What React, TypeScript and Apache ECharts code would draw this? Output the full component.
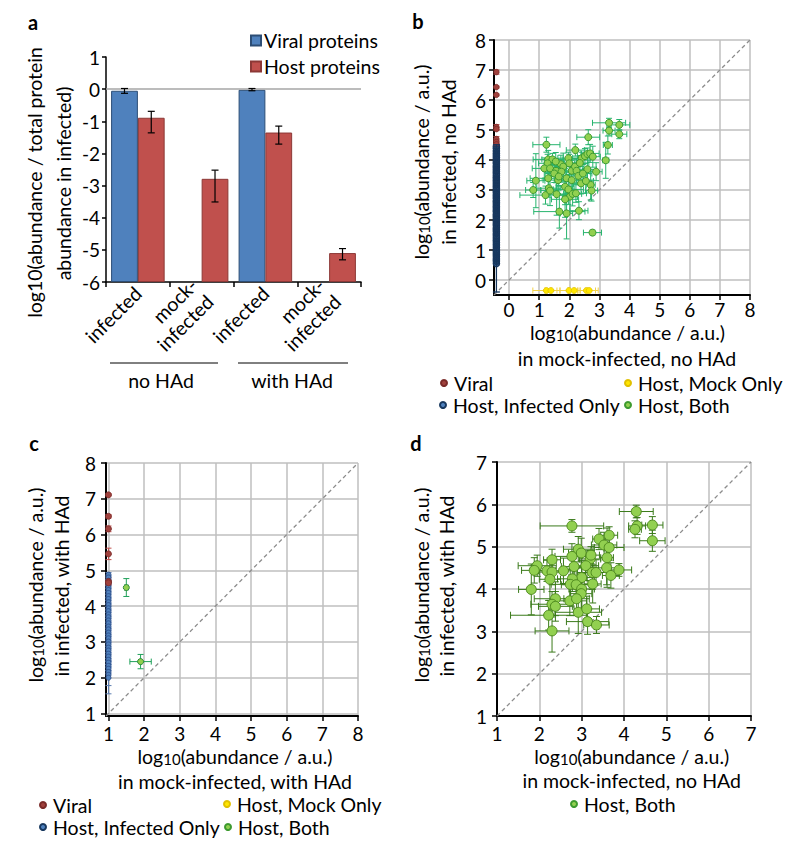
import React, { useEffect, useRef } from 'react';
import * as echarts from 'echarts';

const FONT = 'Lato, "Open Sans", "DejaVu Sans", sans-serif';
const FS = 19.5;
const TFS = 19;

// ---------- Panel a ----------
const aCategories = ['infected', 'mock-\ninfected', 'infected', 'mock-\ninfected'];
const aGroupLabels = ['no HAd', 'with HAd'];
const aViral = [-0.05, null, -0.02, null];
const aViralLow = [-0.13, null, -0.05, null];
const aViralHigh = [0.02, null, 0.02, null];
const aHost = [-0.89, -2.79, -1.35, -5.1];
const aHostLow = [-1.36, -3.51, -1.71, -5.31];
const aHostHigh = [-0.69, -2.52, -1.15, -4.96];

// ---------- Panel b ----------
const bTicks = [0, 1, 2, 3, 4, 5, 6, 7, 8];
const bAbsentX = -0.42;
const bAbsentY = -0.35;
const bViralY = [6.93, 6.43, 6.17, 5.1, 5.03, 4.7, 4.6, 4.52];
const bViralErr = [0.07, 0.03, 0.03, 0.08, 0.05, 0.08, 0.05, 0.05];
const bInfY = [0.55, 0.63, 0.7, 0.78, 0.86, 0.93, 1.0, 1.08, 1.17, 1.25, 1.33, 1.4, 1.47, 1.55, 1.62, 1.68, 1.75, 1.82, 1.88, 1.95, 2.01, 2.08, 2.14, 2.2, 2.27, 2.33, 2.4, 2.46, 2.53, 2.59, 2.65, 2.72, 2.78, 2.85, 2.91, 2.97, 3.04, 3.1, 3.17, 3.23, 3.3, 3.36, 3.42, 3.49, 3.55, 3.62, 3.68, 3.75, 3.81, 3.88, 3.94, 4.01, 4.08, 4.15, 4.22, 4.3, 4.38, 4.45];
const bInfErr = [0.95, 0.03, 0.03, 0.04, 0.03, 0.04, 0.03, 0.04, 0.03, 0.05, 0.04, 0.1, 0.15, 0.12, 0.1, 0.14, 0.1, 0.12, 0.15, 0.1, 0.12, 0.1, 0.14, 0.1, 0.12, 0.15, 0.1, 0.12, 0.1, 0.14, 0.12, 0.1, 0.15, 0.12, 0.1, 0.13, 0.1, 0.12, 0.15, 0.1, 0.12, 0.1, 0.14, 0.1, 0.12, 0.15, 0.1, 0.12, 0.1, 0.14, 0.12, 0.1, 0.12, 0.1, 0.08, 0.1, 0.08, 0.06];
const bMockX = [1.24, 1.39, 1.99, 2.16, 2.57, 2.66];
const bMockErr = [0.45, 0.2, 0.3, 0.2, 0.3, 0.3];
const bBothX = [3.32, 3.66, 3.32, 3.66, 2.63, 3.28, 3.21, 1.24, 2.2, 1.3, 1.44, 1.28, 1.17, 1.36, 1.56, 1.72, 1.8, 1.97, 2.0, 2.08, 2.19, 2.24, 2.41, 2.52, 2.6, 2.69, 2.78, 2.6, 2.89, 2.71, 2.74, 0.89, 0.8, 1.21, 1.32, 1.36, 1.58, 1.3, 1.63, 1.86, 1.97, 2.02, 2.11, 2.22, 2.39, 1.91, 2.08, 2.3, 1.74, 1.86, 1.67, 1.91, 2.32, 2.77, 1.5, 2.45, 1.65, 2.55, 2.35, 1.55];
const bBothY = [5.24, 5.17, 4.98, 4.86, 4.76, 4.5, 3.99, 4.51, 4.33, 4.02, 4.02, 3.89, 3.72, 3.72, 3.64, 3.86, 3.78, 4.06, 3.89, 3.64, 3.78, 3.64, 4.06, 4.13, 4.2, 4.22, 4.11, 3.69, 3.61, 3.17, 2.98, 3.31, 3.0, 2.83, 3.06, 2.98, 2.86, 3.39, 3.33, 3.11, 3.02, 2.78, 2.87, 2.89, 3.22, 3.39, 3.33, 3.47, 3.61, 2.69, 2.28, 2.22, 2.31, 1.58, 3.55, 3.55, 3.45, 3.3, 3.9, 3.95];
const bBothXErr = [0.55, 0.35, 0.2, 0.25, 0.38, 0.15, 0.1, 0.45, 0.3, 0.5, 0.35, 0.3, 0.4, 0.25, 0.3, 0.45, 0.3, 0.35, 0.25, 0.4, 0.3, 0.2, 0.3, 0.25, 0.2, 0.3, 0.25, 0.3, 0.2, 0.15, 0.2, 0.3, 0.25, 0.85, 0.4, 0.3, 0.35, 0.6, 0.5, 0.3, 0.5, 0.25, 0.3, 0.35, 0.25, 0.35, 0.4, 0.3, 0.4, 0.45, 0.85, 0.2, 0.3, 0.3, 0.3, 0.3, 0.35, 0.25, 0.3, 0.3];
const bBothYErr = [0.15, 0.18, 0.15, 0.15, 0.25, 0.3, 0.6, 0.25, 0.2, 0.3, 0.2, 0.3, 0.35, 0.25, 0.4, 0.3, 0.45, 0.2, 0.3, 0.35, 0.25, 0.4, 0.2, 0.25, 0.2, 0.3, 0.35, 0.5, 0.3, 0.5, 0.35, 0.9, 0.25, 0.3, 0.3, 0.5, 0.7, 0.4, 0.45, 0.6, 0.5, 0.5, 0.4, 0.3, 0.35, 0.4, 0.3, 0.3, 0.35, 0.6, 0.55, 0.85, 0.3, 0.08, 0.3, 0.3, 0.3, 0.4, 0.25, 0.3];

// ---------- Panel c ----------
const cTicks = [1, 2, 3, 4, 5, 6, 7, 8];
const cAbsentX = 1.0;
const cViralY = [7.11, 6.51, 6.16, 5.46, 4.69, 4.65];
const cViralErr = [0.03, 0.05, 0.08, 0.16, 0.1, 0.05];
const cInfY = [4.88, 4.8, 4.71, 4.62, 4.53, 4.45, 4.37, 4.28, 4.2, 4.11, 4.03, 3.94, 3.86, 3.77, 3.69, 3.6, 3.52, 3.43, 3.35, 3.26, 3.18, 3.1, 3.01, 2.93, 2.84, 2.76, 2.67, 2.59, 2.5, 2.42, 2.33, 2.25, 2.16, 2.08, 2.0];
const cInfErr = [0.06, 0.05, 0.04, 0.05, 0.04, 0.05, 0.04, 0.05, 0.04, 0.05, 0.04, 0.05, 0.04, 0.05, 0.04, 0.05, 0.04, 0.05, 0.04, 0.05, 0.04, 0.05, 0.04, 0.05, 0.04, 0.05, 0.04, 0.05, 0.04, 0.05, 0.04, 0.05, 0.04, 0.3, 0.45];
const cBothX = [1.5, 1.9];
const cBothY = [4.52, 2.45];
const cBothXErr = [0.05, 0.3];
const cBothYErr = [0.25, 0.2];

// ---------- Panel d ----------
const dTicks = [1, 2, 3, 4, 5, 6, 7];
const dBothX = [4.29, 2.77, 4.31, 4.67, 4.26, 4.67, 3.65, 3.41, 3.53, 3.65, 2.92, 2.99, 2.77, 3.2, 3.22, 3.6, 2.3, 1.95, 1.88, 2.18, 2.3, 2.57, 2.82, 3.1, 3.25, 3.34, 3.59, 3.69, 3.88, 3.0, 2.25, 2.78, 2.73, 2.87, 3.0, 3.26, 2.99, 1.81, 2.38, 2.72, 2.88, 2.3, 2.38, 2.22, 2.92, 3.12, 3.14, 3.35, 2.3];
const dBothY = [5.83, 5.49, 5.49, 5.51, 5.41, 5.14, 5.27, 5.18, 5.04, 4.98, 4.94, 4.85, 4.77, 4.71, 4.8, 4.74, 4.69, 4.55, 4.44, 4.43, 4.4, 4.43, 4.53, 4.55, 4.39, 4.39, 4.5, 4.32, 4.45, 4.27, 4.23, 4.24, 4.11, 4.1, 4.0, 4.12, 3.89, 3.99, 3.77, 3.72, 3.77, 3.64, 3.59, 3.38, 3.45, 3.53, 3.23, 3.15, 3.01];
const dBothXErr = [0.4, 0.75, 0.2, 0.25, 0.15, 0.3, 0.2, 0.15, 0.3, 0.35, 0.35, 0.3, 0.4, 0.25, 0.2, 0.15, 0.2, 0.45, 0.3, 0.2, 0.3, 0.25, 0.3, 0.3, 0.35, 0.25, 0.3, 0.2, 0.3, 0.3, 0.25, 0.35, 0.45, 0.35, 0.3, 0.2, 0.25, 0.3, 0.5, 0.4, 0.3, 0.5, 0.4, 0.9, 0.55, 0.3, 0.5, 0.3, 0.4];
const dBothYErr = [0.15, 0.15, 0.2, 0.2, 0.2, 0.25, 0.2, 0.25, 0.3, 0.3, 0.3, 0.35, 0.3, 0.2, 0.2, 0.7, 0.25, 0.25, 0.3, 0.25, 0.3, 0.3, 0.35, 0.35, 0.4, 0.3, 0.4, 0.3, 0.15, 0.4, 0.5, 0.3, 0.35, 0.4, 0.5, 0.45, 0.35, 0.6, 0.4, 0.35, 0.4, 0.3, 0.35, 0.35, 0.5, 0.3, 0.3, 0.2, 0.5];

const zip4 = (xs: number[], ys: number[], exs: number[], eys: number[]) =>
  xs.map((x, i) => [x, ys[i], exs[i], eys[i]]);
const column = (x: number, ys: number[], eys: number[]) => ys.map((y, i) => [x, y, 0, eys[i]]);
const row = (y: number, xs: number[], exs: number[]) => xs.map((x, i) => [x, y, exs[i], 0]);

function errRender(color: string, cap: number, width = 1) {
  return (params: any, api: any) => {
    const x = api.value(0), y = api.value(1), ex = api.value(2), ey = api.value(3);
    const style = { stroke: color, lineWidth: width, fill: null };
    const children: any[] = [];
    if (ex > 0) {
      const p1 = api.coord([x - ex, y]);
      const p2 = api.coord([x + ex, y]);
      children.push({ type: 'line', shape: { x1: p1[0], y1: p1[1], x2: p2[0], y2: p2[1] }, style });
      children.push({ type: 'line', shape: { x1: p1[0], y1: p1[1] - cap, x2: p1[0], y2: p1[1] + cap }, style });
      children.push({ type: 'line', shape: { x1: p2[0], y1: p2[1] - cap, x2: p2[0], y2: p2[1] + cap }, style });
    }
    if (ey > 0) {
      const p1 = api.coord([x, y - ey]);
      const p2 = api.coord([x, y + ey]);
      children.push({ type: 'line', shape: { x1: p1[0], y1: p1[1], x2: p2[0], y2: p2[1] }, style });
      children.push({ type: 'line', shape: { x1: p1[0] - cap, y1: p1[1], x2: p1[0] + cap, y2: p1[1] }, style });
      children.push({ type: 'line', shape: { x1: p2[0] - cap, y1: p2[1], x2: p2[0] + cap, y2: p2[1] }, style });
    }
    return { type: 'group', children };
  };
}

const errSeries = (name: string, idx: number, data: any[], color: string, cap: number, width = 1, z = 2) => ({
  type: 'custom',
  name,
  xAxisIndex: idx,
  yAxisIndex: idx,
  data,
  z,
  silent: true,
  encode: { x: 0, y: 1 },
  renderItem: errRender(color, cap, width),
});

const scatter = (name: string, idx: number, data: any[], size: number, fill: string, border: string, bw = 1) => ({
  type: 'scatter',
  name,
  xAxisIndex: idx,
  yAxisIndex: idx,
  data: data.map((d) => [d[0], d[1]]),
  symbol: 'circle',
  symbolSize: size,
  z: 3,
  itemStyle: { color: fill, borderColor: border, borderWidth: bw, opacity: 1 },
});

const diag = (idx: number, lo: number, hi: number) => ({
  type: 'line',
  name: 'diag' + idx,
  xAxisIndex: idx,
  yAxisIndex: idx,
  data: [[lo, lo], [hi, hi]],
  symbol: 'none',
  z: 1,
  silent: true,
  lineStyle: { color: '#8c8c8c', width: 1.3, type: [4, 3] },
});

const BLACK_LINE = { show: true, onZero: false, lineStyle: { color: '#000', width: 2 } };
const tickOpt = (vals?: number[], len = 5) => ({
  show: true,
  length: len,
  lineStyle: { color: '#000', width: 1.5 },
  ...(vals ? { customValues: vals } : {}),
});
const SPLIT = { show: true, lineStyle: { color: '#bfbfbf', width: 1.5 } };
const labelOpt = (margin: number, vals?: number[]) => ({
  fontSize: TFS,
  fontFamily: FONT,
  color: '#000',
  margin,
  ...(vals ? { customValues: vals } : {}),
});

const valueAxis = (idx: number, min: number, max: number, margin: number, vals?: number[], interval?: number) => ({
  type: 'value',
  gridIndex: idx,
  min,
  max,
  ...(interval ? { interval } : {}),
  axisLine: BLACK_LINE,
  axisTick: tickOpt(vals),
  axisLabel: labelOpt(margin, vals),
  splitLine: SPLIT,
});

const RICH = {
  n: { fontSize: FS, fontFamily: FONT, fill: '#000', lineHeight: 20, verticalAlign: 'middle' },
  s: { fontSize: 15, fontFamily: FONT, fill: '#000', lineHeight: 9, verticalAlign: 'bottom' },
};
const LOG_TITLE = '{n|log}{s|10}{n|(abundance / a.u.)}';

const text = (x: number, y: number, t: string, rot = 0, extra: any = {}) => ({
  type: 'text',
  x,
  y,
  rotation: rot,
  silent: true,
  style: {
    text: t,
    x: 0,
    y: 0,
    align: 'center',
    verticalAlign: 'middle',
    fontSize: FS,
    fontFamily: FONT,
    fill: '#000',
    ...extra,
  },
});
const richText = (x: number, y: number, t: string, rot = 0) =>
  text(x, y, t, rot, { rich: RICH });
const letter = (x: number, y: number, t: string) =>
  text(x, y, t, 0, { fontWeight: 'bold', fontSize: 20 });

const legendItem = (name: string, left: number, top: number) => ({
  data: [name],
  left,
  top,
  icon: 'circle',
  itemWidth: 6,
  itemHeight: 6,
  selectedMode: false,
  padding: 0,
  textStyle: { fontSize: FS, fontFamily: FONT, color: '#000', lineHeight: 22, padding: [0, 0, 0, 2] },
});

export default function App() {
  const ref = useRef<HTMLDivElement>(null);
  useEffect(() => {
    if (!ref.current) return;
    const chart = echarts.init(ref.current, undefined, { renderer: 'svg' });

    const aErrData: any[] = [];
    aViral.forEach((v, i) => {
      if (v !== null) aErrData.push([i, aViralLow[i], aViralHigh[i], -1]);
    });
    aHost.forEach((v, i) => {
      if (v !== null) aErrData.push([i, aHostLow[i], aHostHigh[i], 1]);
    });
    const CAT_GAP = 0.16;

    const bViral = column(bAbsentX, bViralY, bViralErr);
    const bInf = column(bAbsentX, bInfY, bInfErr);
    const bMock = row(bAbsentY, bMockX, bMockErr);
    const bBoth = zip4(bBothX, bBothY, bBothXErr, bBothYErr);
    const cViral = column(cAbsentX, cViralY, cViralErr);
    const cInf = column(cAbsentX, cInfY, cInfErr);
    const cBoth = zip4(cBothX, cBothY, cBothXErr, cBothYErr);
    const dBoth = zip4(dBothX, dBothY, dBothXErr, dBothYErr);

    const option: any = {
      animation: false,
      backgroundColor: '#fff',
      textStyle: { fontFamily: FONT },
      grid: [
        { left: 106, top: 57, width: 255, height: 225 },
        { left: 494, top: 40, width: 256, height: 255 },
        { left: 106, top: 463, width: 252, height: 253 },
        { left: 497, top: 462, width: 254, height: 254 },
      ],
      xAxis: [
        {
          type: 'category',
          gridIndex: 0,
          data: aCategories,
          axisLine: { show: true, onZero: false, lineStyle: { color: '#000', width: 1.5 } },
          axisTick: { show: true, length: 5, lineStyle: { color: '#000', width: 1.5 } },
          axisLabel: { fontSize: FS, fontFamily: FONT, color: '#000', rotate: 45, interval: 0, margin: 8, lineHeight: 23 },
          splitLine: { show: false },
        },
        valueAxis(1, -0.5, 8, 5, bTicks),
        valueAxis(2, 0.93, 8, 8, cTicks),
        valueAxis(3, 1, 7, 8, undefined, 1),
      ],
      yAxis: [
        {
          type: 'value',
          gridIndex: 0,
          min: -6,
          max: 1,
          interval: 1,
          startValue: -6,
          axisLine: { show: true, onZero: false, lineStyle: { color: '#000', width: 1.5 } },
          axisTick: { show: true, length: 4, lineStyle: { color: '#000', width: 1.5 } },
          axisLabel: { fontSize: TFS, fontFamily: FONT, color: '#000', margin: 6 },
          splitLine: { show: false },
        },
        valueAxis(1, -0.5, 8, 8, bTicks),
        valueAxis(2, 0.93, 8, 10, cTicks),
        valueAxis(3, 1, 7, 10, undefined, 1),
      ],
      legend: [
        {
          data: ['Viral proteins', 'Host proteins'],
          orient: 'vertical',
          left: 250,
          top: 29,
          icon: 'rect',
          itemWidth: 10,
          itemHeight: 10,
          itemGap: 3,
          padding: 0,
          selectedMode: false,
          textStyle: { fontSize: FS, fontFamily: FONT, color: '#000', lineHeight: 23, padding: [0, 0, 0, -2] },
        },
        legendItem('Viral', 440, 372),
        legendItem('Host, Mock Only', 624, 372),
        legendItem('Host, Infected Only', 439, 394),
        legendItem('Host, Both', 624, 394),
        legendItem('Viral', 39, 794),
        legendItem('Host, Mock Only', 223, 793),
        legendItem('Host, Infected Only', 39, 816),
        legendItem('Host, Both', 224, 816),
        legendItem('Host, Both', 570, 793),
      ],
      series: [
        // ---- a ----
        {
          type: 'bar',
          name: 'Viral proteins',
          xAxisIndex: 0,
          yAxisIndex: 0,
          data: aViral,
          barGap: '0%',
          barCategoryGap: CAT_GAP * 100 + '%',
          itemStyle: { color: '#4F81BD', borderColor: '#2C4D75', borderWidth: 1 },
          markLine: {
            silent: true,
            symbol: 'none',
            label: { show: false },
            lineStyle: { color: '#A6A6A6', width: 1.5, type: 'solid' },
            data: [{ yAxis: 0 }],
          },
        },
        {
          type: 'bar',
          name: 'Host proteins',
          xAxisIndex: 0,
          yAxisIndex: 0,
          data: aHost,
          barGap: '0%',
          barCategoryGap: CAT_GAP * 100 + '%',
          itemStyle: { color: '#C0504D', borderColor: '#8C3836', borderWidth: 1 },
        },
        {
          type: 'custom',
          name: 'a-err',
          xAxisIndex: 0,
          yAxisIndex: 0,
          data: aErrData,
          z: 5,
          silent: true,
          encode: { x: 0, y: [1, 2] },
          renderItem: (params: any, api: any) => {
            const cat = api.value(0), lo = api.value(1), hi = api.value(2), side = api.value(3);
            const band = api.size([1, 0])[0];
            const barW = (band * (1 - CAT_GAP)) / 2;
            const pLo = api.coord([cat, lo]);
            const pHi = api.coord([cat, hi]);
            const x = pLo[0] + (side * barW) / 2;
            const cap = 3.5;
            const style = { stroke: '#000', lineWidth: 1.2, fill: null };
            return {
              type: 'group',
              children: [
                { type: 'line', shape: { x1: x, y1: pLo[1], x2: x, y2: pHi[1] }, style },
                { type: 'line', shape: { x1: x - cap, y1: pLo[1], x2: x + cap, y2: pLo[1] }, style },
                { type: 'line', shape: { x1: x - cap, y1: pHi[1], x2: x + cap, y2: pHi[1] }, style },
              ],
            };
          },
        },
        // ---- b ----
        diag(1, -0.5, 8),
        errSeries('b-both-err', 1, bBoth, '#27B46E', 3),
        errSeries('b-inf-err', 1, bInf, '#17375E', 3.5, 1.3, 4),
        errSeries('b-viral-err', 1, bViral, '#B0413E', 3),
        errSeries('b-mock-err', 1, bMock, '#F2D24B', 3),
        scatter('Host, Both', 1, bBoth, 7, '#92D050', '#3D9A2F'),
        scatter('Host, Infected Only', 1, bInf, 6, '#4F81BD', '#17375E', 1.6),
        scatter('Viral', 1, bViral, 5.5, '#A0413D', '#7A2A28', 0.8),
        scatter('Host, Mock Only', 1, bMock, 6, '#FFE600', '#E0C000', 0.8),
        // ---- c ----
        diag(2, 0.93, 8),
        errSeries('c-both-err', 2, cBoth, '#1FA05A', 3),
        errSeries('c-inf-err', 2, cInf, '#5B7DB0', 3),
        errSeries('c-viral-err', 2, cViral, '#C0504D', 3),
        scatter('Host, Both', 2, cBoth, 6, '#92D050', '#2E8B3A'),
        scatter('Host, Infected Only', 2, cInf, 5, '#4F81BD', '#2F528F', 1),
        scatter('Viral', 2, cViral, 6, '#A0413D', '#7A2A28', 0.8),
        // ---- d ----
        diag(3, 1, 7),
        errSeries('d-both-err', 3, dBoth, '#3A7A1A', 3.5),
        scatter('Host, Both', 3, dBoth, 10, '#92D050', '#4E8A1E'),
      ],
      graphic: [
        letter(33, 22, 'a'),
        letter(418, 21, 'b'),
        letter(34, 443, 'c'),
        letter(416, 443, 'd'),
        // a titles
        text(34, 182.5, 'log10(abundance / total protein', Math.PI / 2),
        text(63, 183.5, 'abundance in infected)', Math.PI / 2),
        { type: 'line', silent: true, shape: { x1: 110, y1: 363, x2: 218, y2: 363 }, style: { stroke: '#000', lineWidth: 1 } },
        { type: 'line', silent: true, shape: { x1: 238, y1: 363, x2: 348, y2: 363 }, style: { stroke: '#000', lineWidth: 1 } },
        text(161, 380, aGroupLabels[0]),
        text(292, 380, aGroupLabels[1]),
        // b titles
        richText(627.5, 332, LOG_TITLE),
        text(627, 358, 'in mock-infected, no HAd'),
        richText(421.7, 162, LOG_TITLE, Math.PI / 2),
        text(448.3, 162, 'in infected, no HAd', Math.PI / 2),
        // c titles
        richText(235, 756, LOG_TITLE),
        text(235, 781, 'in mock-infected, with HAd'),
        richText(35, 585, LOG_TITLE, Math.PI / 2),
        text(61.7, 586, 'in infected, with HAd', Math.PI / 2),
        // d titles
        richText(631.7, 756, LOG_TITLE),
        text(631.7, 780, 'in mock-infected, no HAd'),
        richText(421.7, 585, LOG_TITLE, Math.PI / 2),
        text(446.7, 586, 'in infected, with HAd', Math.PI / 2),
      ],
    };
    chart.setOption(option);
    return () => chart.dispose();
  }, []);
  return (
    <div
      ref={ref}
      style={{ position: 'absolute', left: 0, top: 0, width: 800, height: 853, background: '#fff' }}
    />
  );
}
